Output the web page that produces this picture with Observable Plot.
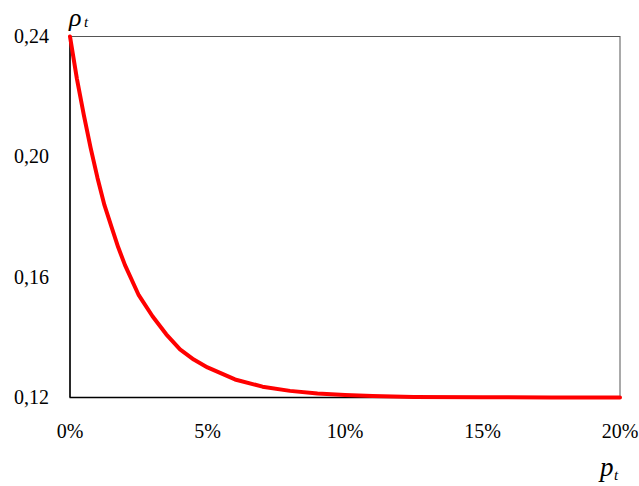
<!DOCTYPE html>
<html>
<head>
<meta charset="utf-8">
<script src="https://cdn.jsdelivr.net/npm/d3@7"></script>
<script src="https://cdn.jsdelivr.net/npm/@observablehq/plot@0.6"></script>
</head>
<body style="margin:0;padding:0;background:#fff">
<div id="chart"></div>
<script>
// Probability of default p_t (x) and asset correlation rho_t (y)
const pValues = [0, 0.0025, 0.005, 0.0075, 0.01, 0.0125, 0.015, 0.0175, 0.02, 0.025, 0.03, 0.035, 0.04, 0.045, 0.05, 0.06, 0.07, 0.08, 0.09, 0.10, 0.11, 0.125, 0.15, 0.175, 0.20];
const rhoValues = [0.240, 0.226, 0.214, 0.203, 0.193, 0.184, 0.177, 0.170, 0.164, 0.154, 0.147, 0.141, 0.136, 0.1326, 0.130, 0.126, 0.1236, 0.1222, 0.1213, 0.1208, 0.1205, 0.1202, 0.1201, 0.1200, 0.1200];
const xTicks = [0, 0.05, 0.10, 0.15, 0.20];
const yTicks = [0.12, 0.16, 0.20, 0.24];

const data = pValues.map((p, i) => ({p, rho: rhoValues[i]}));
const yFmt = d => d3.format(".2f")(d).replace(".", ",");

const chart = Plot.plot({
  width: 639,
  height: 486,
  marginLeft: 69.5,
  marginRight: 19.5,
  marginTop: 36,
  marginBottom: 89,
  style: {fontFamily: "Liberation Serif", fontSize: "20px", color: "#000", background: "#fff"},
  x: {domain: [0, 0.20], ticks: xTicks, tickFormat: d3.format(".0%"), label: null},
  y: {domain: [0.12, 0.24], ticks: yTicks, tickFormat: yFmt, label: null},
  marks: [
    Plot.axisX({ticks: xTicks, tickFormat: d3.format(".0%"), tickSize: 0, tickPadding: 26, fontSize: 20}),
    Plot.axisY({ticks: yTicks, tickFormat: yFmt, tickSize: 0, tickPadding: 21, fontSize: 20}),
    Plot.frame({stroke: "#555", strokeWidth: 1}),
    Plot.ruleX([0], {stroke: "#000", strokeWidth: 1.5}),
    Plot.ruleY([0.12], {stroke: "#000", strokeWidth: 1.5}),
    Plot.line(data, {x: "p", y: "rho", stroke: "#ff0000", strokeWidth: 4, strokeLinejoin: "round"}),
    // axis titles
    Plot.text(["ρ"], {frameAnchor: "top-left", lineAnchor: "middle", dx: -1, dy: -19, text: d => d, fontSize: 26, fontStyle: "italic", textAnchor: "start", fill: "#000"}),
    Plot.text(["t"], {frameAnchor: "top-left", lineAnchor: "middle", dx: 14, dy: -14, text: d => d, fontSize: 15, fontStyle: "italic", textAnchor: "start", fill: "#000"}),
    Plot.text(["p"], {frameAnchor: "bottom-right", lineAnchor: "middle", dx: -20, dy: 70, text: d => d, fontSize: 27, fontStyle: "italic", textAnchor: "start", fill: "#000"}),
    Plot.text(["t"], {frameAnchor: "bottom-right", lineAnchor: "middle", dx: -6, dy: 78, text: d => d, fontSize: 15, fontStyle: "italic", textAnchor: "start", fill: "#000"})
  ]
});
document.getElementById("chart").appendChild(chart);
</script>
</body>
</html>
